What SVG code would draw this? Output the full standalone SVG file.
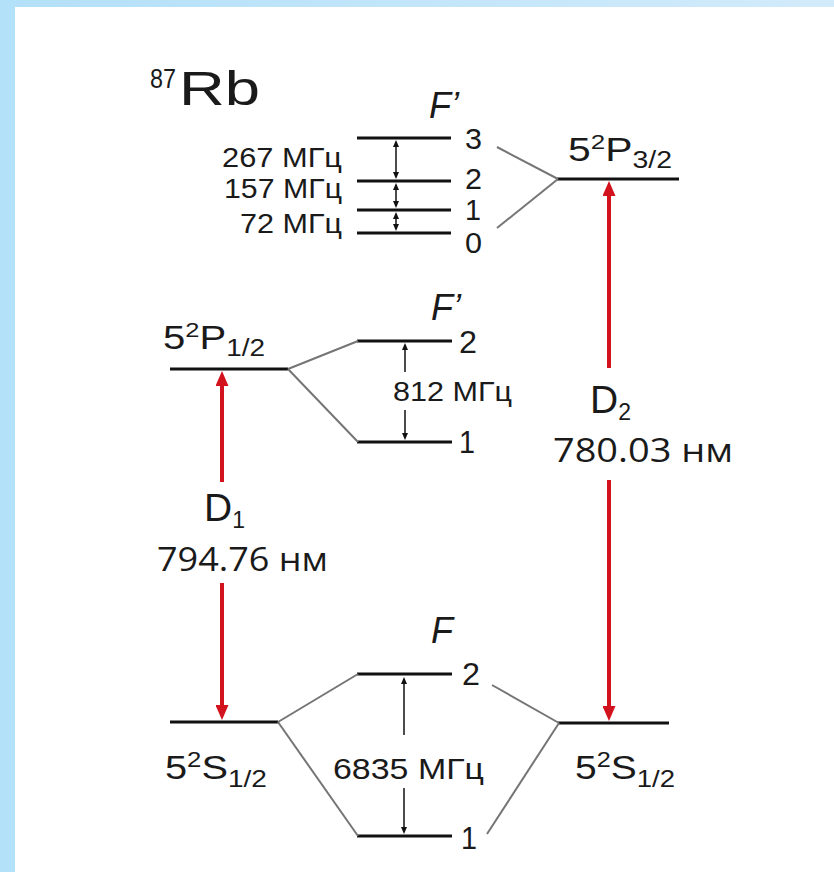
<svg xmlns="http://www.w3.org/2000/svg" width="834" height="872" viewBox="0 0 834 872">
<style>
.t{font-family:"Liberation Sans",Arial,sans-serif;fill:#1a1a1a}
.o{font-family:"Open Sans","Liberation Sans",sans-serif;fill:#1a1a1a}
.i{font-family:"Liberation Sans",Arial,sans-serif;font-style:italic;fill:#1a1a1a}
.lvl{stroke:#111;stroke-width:3;fill:none}
.gr{stroke:#757575;stroke-width:2;fill:none}
.red{stroke:#d2121c;stroke-width:4;fill:none}
.blk{stroke:#111;stroke-width:1.5;fill:none}
</style>
<defs>
<linearGradient id="bar" x1="0" y1="0" x2="1" y2="0">
<stop offset="0" stop-color="#b3e0f8"/>
<stop offset="1" stop-color="#d2ebfb"/>
</linearGradient>
<marker id="rh" markerUnits="userSpaceOnUse" markerWidth="15" markerHeight="13" viewBox="0 0 15 13" refX="0" refY="6.5" orient="auto-start-reverse">
<path d="M0,0 L15,6.5 L0,13 z" fill="#d2121c"/>
</marker>
<marker id="bh" markerUnits="userSpaceOnUse" markerWidth="7" markerHeight="6" viewBox="0 0 7 6" refX="0" refY="3" orient="auto-start-reverse">
<path d="M0,0 L7,3 L0,6 z" fill="#111"/>
</marker>
</defs>
<rect x="0" y="0" width="834" height="872" fill="#fff"/>
<rect x="0" y="0" width="834" height="7" fill="url(#bar)"/>
<rect x="0" y="0" width="15" height="872" fill="#b3e1f9"/>

<g id="title">
<text class="t" x="150" y="88" font-size="27" textLength="26" lengthAdjust="spacingAndGlyphs">87</text>
<text class="t" x="179" y="105" font-size="48" textLength="81" lengthAdjust="spacingAndGlyphs">Rb</text>
</g>

<g id="P32-hfs">
<text class="i" x="429" y="118" font-size="36">F’</text>
<line class="lvl" x1="357" y1="138" x2="451" y2="138"/>
<line class="lvl" x1="357" y1="181" x2="451" y2="181"/>
<line class="lvl" x1="357" y1="210" x2="451" y2="210"/>
<line class="lvl" x1="357" y1="233" x2="451" y2="233"/>
<text class="t" x="465" y="149" font-size="29" textLength="17" lengthAdjust="spacingAndGlyphs">3</text>
<text class="t" x="465" y="189" font-size="29" textLength="17" lengthAdjust="spacingAndGlyphs">2</text>
<text class="t" x="465" y="220" font-size="29" textLength="16" lengthAdjust="spacingAndGlyphs">1</text>
<text class="t" x="465" y="253" font-size="29" textLength="17" lengthAdjust="spacingAndGlyphs">0</text>
<text class="t" x="222" y="167" font-size="28" textLength="120" lengthAdjust="spacingAndGlyphs">267 МГц</text>
<text class="t" x="224" y="198" font-size="28" textLength="118" lengthAdjust="spacingAndGlyphs">157 МГц</text>
<text class="t" x="240" y="233" font-size="28" textLength="102" lengthAdjust="spacingAndGlyphs">72 МГц</text>
</g>

<g id="P32">
<line class="lvl" x1="557" y1="179" x2="679" y2="179"/>
<text class="t" x="568" y="161" font-size="33" textLength="104" lengthAdjust="spacingAndGlyphs">5<tspan font-size="21" dy="-12">2</tspan><tspan dy="12">P</tspan><tspan font-size="23" dy="7">3/2</tspan></text>
</g>

<g id="P12-hfs">
<text class="i" x="431" y="320" font-size="36">F’</text>
<line class="lvl" x1="357" y1="341" x2="452" y2="341"/>
<line class="lvl" x1="357" y1="442" x2="452" y2="442"/>
<text class="t" x="459" y="353" font-size="31" textLength="18" lengthAdjust="spacingAndGlyphs">2</text>
<text class="t" x="459" y="453" font-size="31" textLength="16" lengthAdjust="spacingAndGlyphs">1</text>
<text class="t" x="393" y="401" font-size="28" textLength="119" lengthAdjust="spacingAndGlyphs">812 МГц</text>
</g>

<g id="P12">
<line class="lvl" x1="170" y1="369" x2="288" y2="369"/>
<text class="t" x="163" y="349" font-size="33" textLength="102" lengthAdjust="spacingAndGlyphs">5<tspan font-size="21" dy="-12">2</tspan><tspan dy="12">P</tspan><tspan font-size="23" dy="7">1/2</tspan></text>
</g>

<g id="S12-hfs">
<text class="i" x="431" y="643" font-size="36">F</text>
<line class="lvl" x1="357" y1="674" x2="452" y2="674"/>
<line class="lvl" x1="357" y1="836" x2="452" y2="836"/>
<text class="t" x="462" y="685" font-size="31" textLength="18" lengthAdjust="spacingAndGlyphs">2</text>
<text class="t" x="461" y="849" font-size="31" textLength="16" lengthAdjust="spacingAndGlyphs">1</text>
<text class="t" x="333" y="779" font-size="29" textLength="151" lengthAdjust="spacingAndGlyphs">6835 МГц</text>
</g>

<g id="S12-left">
<line class="lvl" x1="170" y1="722" x2="278" y2="722"/>
<text class="t" x="165" y="779" font-size="34" textLength="102" lengthAdjust="spacingAndGlyphs">5<tspan font-size="22" dy="-12">2</tspan><tspan dy="12">S</tspan><tspan font-size="24" dy="8">1/2</tspan></text>
</g>

<g id="S12-right">
<line class="lvl" x1="558" y1="723" x2="669" y2="723"/>
<text class="t" x="575" y="779" font-size="34" textLength="100" lengthAdjust="spacingAndGlyphs">5<tspan font-size="22" dy="-12">2</tspan><tspan dy="12">S</tspan><tspan font-size="24" dy="8">1/2</tspan></text>
</g>

<g id="D1-label">
<text class="t" x="204" y="521" font-size="39">D<tspan font-size="23" dy="7">1</tspan></text>
<text class="o" x="157" y="571" font-size="32" textLength="171" lengthAdjust="spacingAndGlyphs">794.76 нм</text>
</g>

<g id="D2-label">
<text class="t" x="590" y="413" font-size="39">D<tspan font-size="23" dy="7">2</tspan></text>
<text class="o" x="553" y="462" font-size="32" textLength="180" lengthAdjust="spacingAndGlyphs">780.03 нм</text>
</g>

<g id="connectors">
<line class="gr" x1="497" y1="147" x2="558" y2="179"/>
<line class="gr" x1="497" y1="228" x2="558" y2="179"/>
<line class="gr" x1="288" y1="369" x2="358" y2="341"/>
<line class="gr" x1="288" y1="369" x2="358" y2="442"/>
<line class="gr" x1="278" y1="722" x2="358" y2="674"/>
<line class="gr" x1="278" y1="722" x2="358" y2="836"/>
<line class="gr" x1="492" y1="685" x2="559" y2="723"/>
<line class="gr" x1="559" y1="723" x2="487" y2="834"/>
<line class="red" x1="222" y1="386" x2="222" y2="482" marker-start="url(#rh)"/>
<line class="red" x1="222" y1="583" x2="222" y2="705" marker-end="url(#rh)"/>
<line class="red" x1="609" y1="196" x2="609" y2="368" marker-start="url(#rh)"/>
<line class="red" x1="609" y1="480" x2="609" y2="706" marker-end="url(#rh)"/>
<line class="blk" x1="396" y1="147" x2="396" y2="172" marker-start="url(#bh)" marker-end="url(#bh)"/>
<line class="blk" x1="396" y1="190" x2="396" y2="201" marker-start="url(#bh)" marker-end="url(#bh)"/>
<line class="blk" x1="396" y1="219" x2="396" y2="224" marker-start="url(#bh)" marker-end="url(#bh)"/>
<line class="blk" x1="405" y1="350" x2="405" y2="372" marker-start="url(#bh)"/>
<line class="blk" x1="405" y1="410" x2="405" y2="433" marker-end="url(#bh)"/>
<line class="blk" x1="404" y1="684" x2="404" y2="735" marker-start="url(#bh)"/>
<line class="blk" x1="404" y1="788" x2="404" y2="827" marker-end="url(#bh)"/>
</g>
</svg>
